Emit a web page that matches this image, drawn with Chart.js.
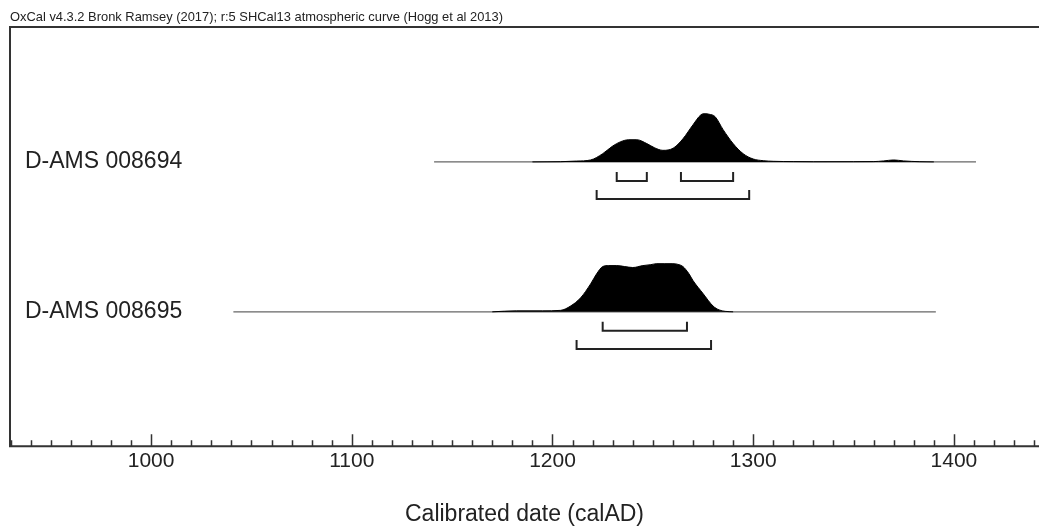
<!DOCTYPE html>
<html>
<head>
<meta charset="utf-8">
<script src="https://cdn.jsdelivr.net/npm/chart.js@4.4.1/dist/chart.umd.min.js"></script>
<style>
  html, body { margin: 0; padding: 0; background: #fff; }
  canvas { display: block; }
</style>
</head>
<body>
<canvas id="oxcal" width="1039" height="526"></canvas>
<script>
// Titre et étiquettes
var header = 'OxCal v4.3.2 Bronk Ramsey (2017); r:5 SHCal13 atmospheric curve (Hogg et al 2013)';
var axisTitle = 'Calibrated date (calAD)';
var samples = ['D-AMS 008694', 'D-AMS 008695'];

// Etendue de la ligne de chaque échantillon (calAD)
var spanStart = [1141, 1041];
var spanEnd = [1411, 1391];

// Distribution de probabilité (hauteur relative, max = 100)
var years694 = [1190, 1204, 1212, 1219, 1225, 1230, 1234, 1238, 1242, 1247, 1251, 1255, 1258, 1261, 1265, 1270, 1274, 1276, 1278, 1281, 1285, 1290, 1295, 1300, 1305, 1310, 1320, 1330, 1350, 1360, 1365, 1370, 1375, 1383, 1390];
var prob694  = [0, 0.4, 1.7, 4, 17, 33, 42, 46, 46, 38, 29, 24, 25, 31, 48, 77, 98, 100, 99, 94, 67, 38, 17, 6, 2.5, 1.2, 0.6, 0.3, 0.4, 0.6, 2, 4, 2, 0.4, 0];
var years695 = [1170, 1182, 1195, 1204, 1209, 1214, 1219, 1222, 1225, 1228, 1232, 1236, 1240, 1245, 1249, 1252, 1256, 1260, 1263, 1265, 1268, 1270, 1275, 1280, 1283, 1286, 1290];
var prob695  = [0, 2, 2, 3, 12, 29, 58, 79, 94, 96, 96, 94, 92, 96, 98, 100, 100, 100, 98, 94, 79, 65, 38, 12, 4, 1, 0];

// Intervalles 68.2% et 95.4%
var range68 = [[[1232, 1247], [1264, 1290]], [[1225, 1267]]];
var range95 = [[[1222, 1298]], [[1212, 1279]]];

// Axe X
var xMin = 929.7, xMax = 1442.4;

var baselines = [283.5, 134]; // position verticale des lignes (unités = px depuis l'axe)
var peakHeight = 48;
var font = 'Liberation Sans, Arial, sans-serif';

var datasets = [];
var probs = [[years694, prob694], [years695, prob695]];
samples.forEach(function (name, i) {
    var base = baselines[i];
    datasets.push({
        data: probs[i][0].map(function (yr, k) { return { x: yr, y: base + probs[i][1][k] / 100 * peakHeight }; }),
        borderColor: '#000', backgroundColor: '#000', borderWidth: 1,
        fill: { value: base }, pointRadius: 0, cubicInterpolationMode: 'monotone', order: 1
    });
    datasets.push({
        data: [{ x: spanStart[i], y: base }, { x: spanEnd[i], y: base }],
        borderColor: '#666', borderWidth: 1.2, pointRadius: 0, fill: false, order: 2
    });
    var brackets = [[range68[i], 19], [range95[i], 37]];
    brackets.forEach(function (b) {
        b[0].forEach(function (r) {
            var yb = base - b[1];
            datasets.push({
                data: [{ x: r[0], y: yb + 9 }, { x: r[0], y: yb }, { x: r[1], y: yb }, { x: r[1], y: yb + 9 }],
                borderColor: '#222', borderWidth: 2, pointRadius: 0, fill: false, tension: 0, order: 0
            });
        });
    });
});

// Cadre, ticks et textes
var oxcalFrame = {
    id: 'oxcalFrame',
    afterDatasetsDraw: function (chart) {
        var c = chart.ctx, a = chart.chartArea, xs = chart.scales.x, ys = chart.scales.y;
        c.save();
        c.strokeStyle = '#333';
        c.lineWidth = 2;
        c.beginPath();
        c.moveTo(chart.width, a.top); c.lineTo(a.left, a.top); c.lineTo(a.left, a.bottom); c.lineTo(chart.width, a.bottom);
        c.stroke();
        c.lineWidth = 1.5;
        c.beginPath();
        for (var v = Math.ceil(xMin / 10) * 10; v <= xMax; v += 10) {
            var px = Math.round(xs.getPixelForValue(v)) + 0.5;
            var len = (v % 100 === 0) ? 12 : 6;
            c.moveTo(px, a.bottom); c.lineTo(px, a.bottom - len);
        }
        c.stroke();
        c.fillStyle = '#222';
        c.font = '13px ' + font;
        c.textBaseline = 'alphabetic';
        c.fillText(header, a.left, 21, 493);
        c.font = '23px ' + font;
        c.textBaseline = 'middle';
        samples.forEach(function (name, i) {
            c.fillText(name, 25, ys.getPixelForValue(baselines[i]));
        });
        c.restore();
    }
};

var config = {
    type: 'line',
    data: { datasets: datasets },
    options: {
        responsive: false,
        animation: false,
        layout: { padding: { left: 10, top: 27, right: 0, bottom: -2 } },
        plugins: { legend: { display: false }, tooltip: { enabled: false } },
        scales: {
            x: {
                type: 'linear', min: xMin, max: xMax,
                grid: { display: false, drawTicks: false },
                border: { display: false },
                ticks: {
                    stepSize: 100, includeBounds: false, padding: 2, color: '#222', maxRotation: 0,
                    font: { family: font, size: 21 },
                    callback: function (v) { return String(v); }
                },
                title: { display: true, text: axisTitle, color: '#222', font: { family: font, size: 23 }, padding: { top: 25, bottom: 0 } }
            },
            y: { type: 'linear', display: false, min: 0, max: 418 }
        }
    },
    plugins: [oxcalFrame]
};

var chart = new Chart(document.getElementById('oxcal').getContext('2d'), config);
</script>
</body>
</html>
